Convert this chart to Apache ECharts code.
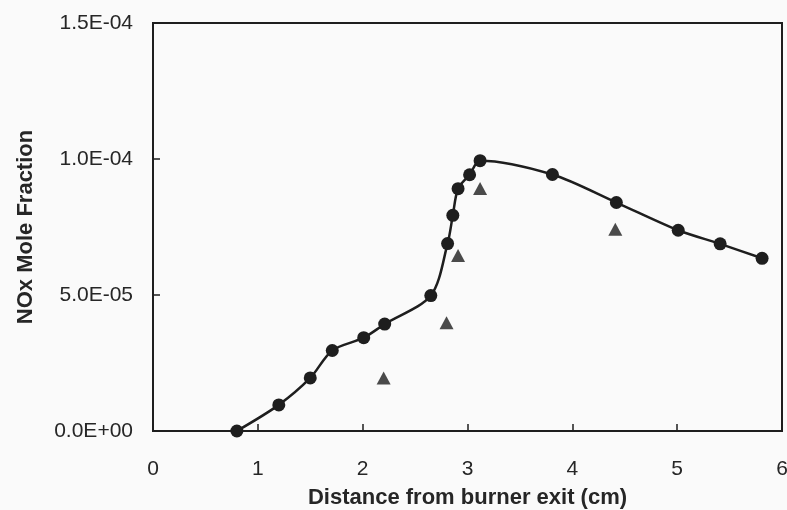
<!DOCTYPE html>
<html>
<head>
<meta charset="utf-8">
<script src="https://cdn.jsdelivr.net/npm/echarts@6/dist/echarts.min.js"></script>
<style>
  html, body { margin: 0; padding: 0; background: #fafafa; }
  #chart { width: 787px; height: 510px; }
</style>
</head>
<body>
<div id="chart"></div>
<script>
// Predicted NOx profile along the flame axis
const predDistance = [0.80, 1.20, 1.50, 1.71, 2.01, 2.21, 2.65, 2.81, 2.86, 2.91, 3.02, 3.12, 3.81, 4.42, 5.01, 5.41, 5.81];
const predNOx = [0, 0.96e-5, 1.95e-5, 2.96e-5, 3.43e-5, 3.93e-5, 4.98e-5, 6.89e-5, 7.93e-5, 8.91e-5, 9.42e-5, 9.94e-5, 9.43e-5, 8.40e-5, 7.38e-5, 6.88e-5, 6.35e-5];

// Measured NOx
const expDistance = [2.20, 2.80, 2.91, 3.12, 4.41];
const expNOx = [1.95e-5, 3.98e-5, 6.45e-5, 8.92e-5, 7.42e-5];

// Axis tick labels
const xTickLabels = ['0', '1', '2', '3', '4', '5', '6'];
const yTickLabels = ['0.0E+00', '5.0E-05', '1.0E-04', '1.5E-04'];

const ink = '#1e1e1e';
const textInk = '#262626';
const font = 'Liberation Sans, Arial, sans-serif';

const chart = echarts.init(document.getElementById('chart'), null, { renderer: 'canvas' });

chart.setOption({
  backgroundColor: '#fafafa',
  animation: false,
  grid: {
    left: 153, top: 23, right: 5, bottom: 79,
    outerBoundsMode: 'none',
    containLabel: false,
    show: true, borderColor: ink, borderWidth: 2, backgroundColor: 'transparent'
  },
  xAxis: {
    type: 'value', min: 0, max: 6, interval: 1,
    name: 'Distance from burner exit (cm)',
    nameLocation: 'middle', nameGap: 56,
    nameTextStyle: { fontFamily: font, fontSize: 22, fontWeight: 'bold', color: textInk },
    axisLine: { show: true, onZero: false, lineStyle: { color: ink, width: 2 } },
    axisTick: { show: true, inside: true, length: 7, lineStyle: { color: ink, width: 1.5 } },
    axisLabel: {
      margin: 28, fontFamily: font, fontSize: 21, color: textInk,
      formatter: (v, i) => xTickLabels[i]
    },
    splitLine: { show: false }
  },
  yAxis: {
    type: 'value', min: 0, max: 1.5e-4, interval: 5e-5,
    name: 'NOx Mole Fraction',
    nameLocation: 'middle', nameGap: 116, nameRotate: 90,
    nameTextStyle: { fontFamily: font, fontSize: 22, fontWeight: 'bold', color: textInk },
    axisLine: { show: true, lineStyle: { color: ink, width: 2 } },
    axisTick: { show: true, inside: true, length: 7, lineStyle: { color: ink, width: 1.5 } },
    axisLabel: {
      margin: 20, fontFamily: font, fontSize: 21, color: textInk,
      formatter: (v, i) => yTickLabels[i]
    },
    splitLine: { show: false }
  },
  series: [
    {
      name: 'Predicted',
      type: 'line',
      data: predDistance.map((x, i) => [x, predNOx[i]]),
      smooth: 0.3,
      symbol: 'circle', symbolSize: 13,
      lineStyle: { color: ink, width: 2.5 },
      itemStyle: { color: ink, borderWidth: 0 }
    },
    {
      name: 'Experiment',
      type: 'scatter',
      data: expDistance.map((x, i) => [x, expNOx[i]]),
      symbol: 'triangle', symbolSize: [14, 13],
      itemStyle: { color: ink }
    }
  ]
});
</script>
</body>
</html>
